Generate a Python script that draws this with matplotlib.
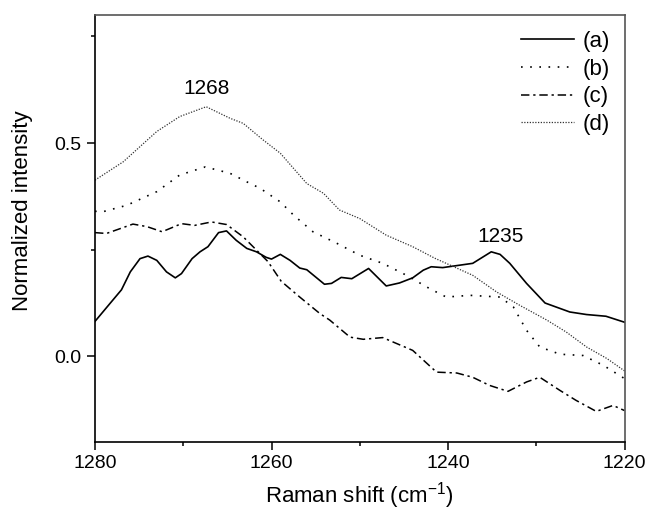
import matplotlib
matplotlib.use("Agg")
import matplotlib.pyplot as plt
from matplotlib.ticker import MultipleLocator

plt.rcParams['font.family'] = ['Liberation Sans', 'DejaVu Sans']
plt.rcParams['mathtext.fontset'] = 'custom'
plt.rcParams['mathtext.rm'] = 'Liberation Sans'

# ---- data ----
xa = [1280, 1278.3, 1277.0, 1276.0, 1274.9, 1274.0, 1273.0, 1271.9, 1270.9, 1270.2, 1269.0, 1268.1,
      1267.2, 1266.0, 1265.1, 1264.0, 1262.8, 1261.7, 1260.6, 1260.0, 1259.0, 1257.9, 1256.8, 1256.0,
      1254.0, 1253.2, 1252.1, 1250.9, 1249.0, 1247.0, 1245.5, 1244.0, 1242.8, 1241.9, 1240.6, 1237.2,
      1235.1, 1234.1, 1233.0, 1231.1, 1229.0, 1226.2, 1224.3, 1222.1, 1220]
ya = [0.082, 0.124, 0.156, 0.198, 0.229, 0.235, 0.225, 0.198, 0.184, 0.194, 0.229, 0.245,
      0.257, 0.290, 0.294, 0.272, 0.253, 0.245, 0.232, 0.228, 0.239, 0.225, 0.207, 0.203,
      0.169, 0.171, 0.185, 0.182, 0.206, 0.165, 0.172, 0.184, 0.202, 0.210, 0.208, 0.218,
      0.245, 0.239, 0.218, 0.171, 0.125, 0.104, 0.098, 0.094, 0.080]

xb = [1280, 1279.1, 1276.4, 1273.0, 1270.4, 1267.5, 1264.7, 1262.8, 1261.3, 1259.0, 1257.5, 1255.3,
      1252.6, 1250.0, 1247.4, 1244.7, 1242.1, 1240.2, 1237.5, 1234.1, 1232.6, 1231.1, 1229.6, 1227.3,
      1224.7, 1222.4, 1220]
yb = [0.340, 0.339, 0.354, 0.386, 0.425, 0.444, 0.429, 0.409, 0.394, 0.362, 0.331, 0.292,
      0.265, 0.237, 0.218, 0.190, 0.159, 0.139, 0.143, 0.139, 0.116, 0.061, 0.022, 0.005,
      0.002, -0.021, -0.052]

xc = [1280, 1278.7, 1275.7, 1274.1, 1272.4, 1270.2, 1268.7, 1266.8, 1265.1, 1263.2, 1261.7, 1260.4,
      1258.9, 1256.8, 1254.5, 1253.4, 1251.1, 1249.6, 1247.4, 1244.0, 1241.3, 1239.0, 1237.2, 1235.3,
      1233.2, 1231.1, 1229.6, 1227.3, 1225.5, 1223.2, 1221.3, 1220]
yc = [0.290, 0.288, 0.310, 0.304, 0.292, 0.311, 0.307, 0.315, 0.309, 0.280, 0.249, 0.222,
      0.176, 0.139, 0.100, 0.085, 0.045, 0.040, 0.044, 0.014, -0.037, -0.039, -0.049, -0.068,
      -0.082, -0.060, -0.049, -0.080, -0.103, -0.129, -0.115, -0.127]

xd = [1280, 1276.8, 1273.0, 1270.4, 1267.4, 1264.7, 1263.2, 1261.0, 1259.0, 1256.0, 1254.1, 1252.3,
      1250.0, 1247.0, 1244.0, 1241.5, 1237.2, 1234.5, 1231.9, 1228.8, 1226.6, 1224.3, 1222.0, 1220]
yd = [0.413, 0.456, 0.527, 0.562, 0.585, 0.558, 0.546, 0.508, 0.476, 0.405, 0.382, 0.343,
      0.323, 0.284, 0.257, 0.230, 0.190, 0.151, 0.120, 0.085, 0.057, 0.022, -0.005, -0.034]

labels = ['(a)', '(b)', '(c)', '(d)']
peak_labels = ['1268', '1235']
peak_pos = [(1267.4, 0.627), (1234.0, 0.280)]

# ---- figure ----
fig = plt.figure(figsize=(6.5, 5.17), dpi=100)
ax = fig.add_axes([95/650, 1-441.7/517, 529.5/650, 426.7/517])

ax.plot(xa, ya, color='black', lw=1.2, ls='-', label=labels[0])
ax.plot(xb, yb, color='black', lw=1.2, ls=(0, (1, 4.5)), label=labels[1])
ax.plot(xc, yc, color='black', lw=1.1, ls=(0, (5.5, 2.5, 1.5, 2.5)), label=labels[2])
ax.plot(xd, yd, color='#333333', lw=0.9, ls=(0, (1, 1.2)), label=labels[3])

for t, (px, py) in zip(peak_labels, peak_pos):
    ax.text(px, py, t, ha='center', va='center', fontsize=15)

ax.set_xlim(1280, 1220)
ax.set_ylim(-0.2, 0.8)
ax.xaxis.set_major_locator(MultipleLocator(20))
ax.xaxis.set_minor_locator(MultipleLocator(10))
ax.yaxis.set_minor_locator(MultipleLocator(0.25))
ax.set_yticks([0.0, 0.5])
ax.set_yticklabels(['0.0', '0.5'])

ax.tick_params(which='both', direction='out', top=False, right=False, labelsize=14, width=1.1)
ax.tick_params(which='major', length=5.5, pad=4)
ax.tick_params(which='minor', length=3)

for s in ['left', 'bottom']:
    ax.spines[s].set_linewidth(1.2)
    ax.spines[s].set_color('black')
for s in ['top', 'right']:
    ax.spines[s].set_linewidth(1.2)
    ax.spines[s].set_color('#555555')

ax.set_xlabel('Raman shift (cm$^{\\mathregular{-1}}$)', fontsize=16, va='center')
ax.xaxis.set_label_coords(0.5, (441.7 - 496) / 426.7)
ax.set_ylabel('Normalized intensity', fontsize=16, va='center', ha='center')
ax.yaxis.set_label_coords((23 - 95) / 529.5, (441.7 - 211) / 426.7)

ax.legend(loc='upper right', bbox_to_anchor=((610 - 95) / 529.5, (441.7 - 31) / 426.7),
          frameon=False, fontsize=16, handlelength=2.4, handletextpad=0.38,
          labelspacing=0.30, borderpad=0, borderaxespad=0)

fig.savefig('out.png', dpi=100)
